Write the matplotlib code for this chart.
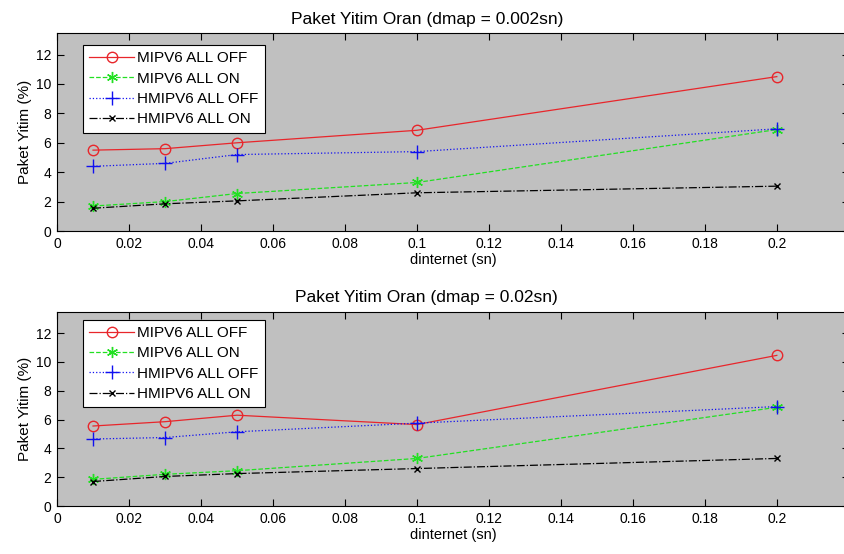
import matplotlib
matplotlib.use('Agg')
import matplotlib.pyplot as plt

plt.rcParams['font.family'] = ['Liberation Sans', 'DejaVu Sans']

x = [0.01, 0.03, 0.05, 0.1, 0.2]
labels = ['MIPV6 ALL OFF', 'MIPV6 ALL ON', 'HMIPV6 ALL OFF', 'HMIPV6 ALL ON']

# dmap = 0.002sn
top_mipv6_off = [5.5, 5.6, 6.0, 6.85, 10.5]
top_mipv6_on = [1.7, 2.0, 2.55, 3.3, 6.9]
top_hmipv6_off = [4.4, 4.6, 5.2, 5.4, 6.95]
top_hmipv6_on = [1.55, 1.85, 2.05, 2.6, 3.05]

# dmap = 0.02sn
bot_mipv6_off = [5.55, 5.85, 6.3, 5.65, 10.45]
bot_mipv6_on = [1.85, 2.2, 2.45, 3.3, 6.85]
bot_hmipv6_off = [4.65, 4.75, 5.15, 5.75, 6.9]
bot_hmipv6_on = [1.7, 2.05, 2.25, 2.6, 3.3]

titles = ['Paket Yitim Oran (dmap = 0.002sn)', 'Paket Yitim Oran (dmap = 0.02sn)']


def draw(ax, series, title, leg_y):
    styles = [
        dict(color='#e8262b', linestyle='-', marker='o', markersize=7.5,
             markerfacecolor='none'),
        dict(color='#22e022', linestyle='--', marker=(6, 2, 0), markersize=8),
        dict(color='#1010f0', linestyle=':', marker='+', markersize=10),
        dict(color='black', linestyle='-.', marker='x', markersize=5),
    ]
    for y, st, lab in zip(series, styles, labels):
        ax.plot(x, y, linewidth=0.9, label=lab, **st)
    ax.set_facecolor('#c0c0c0')
    ax.set_xlim(0, 0.22)
    ax.set_ylim(0, 13.45)
    ax.set_xticks([0, 0.02, 0.04, 0.06, 0.08, 0.1, 0.12, 0.14, 0.16, 0.18, 0.2])
    ax.set_xticklabels(['0', '0.02', '0.04', '0.06', '0.08', '0.1', '0.12',
                        '0.14', '0.16', '0.18', '0.2'])
    ax.set_yticks([0, 2, 4, 6, 8, 10, 12])
    ax.tick_params(direction='in', top=True, right=True, length=5,
                   labelsize=10, pad=4)
    ax.set_xlabel('dinternet (sn)', fontsize=10.5, labelpad=2)
    ax.set_ylabel('Paket Yitim (%)', fontsize=11, labelpad=3)
    ax.set_title(title, fontsize=12.5, pad=7, x=0.467)
    leg = ax.legend(loc='upper left', bbox_to_anchor=(0.033, leg_y),
                    fontsize=11, handlelength=2.95, fancybox=False,
                    framealpha=1, edgecolor='black', borderaxespad=0,
                    labelspacing=0.42, handletextpad=0.2, borderpad=0.4)
    leg.get_frame().set_linewidth(0.8)


fig = plt.figure(figsize=(8.45, 5.54), dpi=100)
ax1 = fig.add_axes([0.0675, 0.583, 0.937, 0.357])
ax2 = fig.add_axes([0.0675, 0.0866, 0.937, 0.350])

draw(ax1, [top_mipv6_off, top_mipv6_on, top_hmipv6_off, top_hmipv6_on], titles[0], 0.94)
draw(ax2, [bot_mipv6_off, bot_mipv6_on, bot_hmipv6_off, bot_hmipv6_on], titles[1], 0.96)

fig.savefig('out.png', dpi=100)
